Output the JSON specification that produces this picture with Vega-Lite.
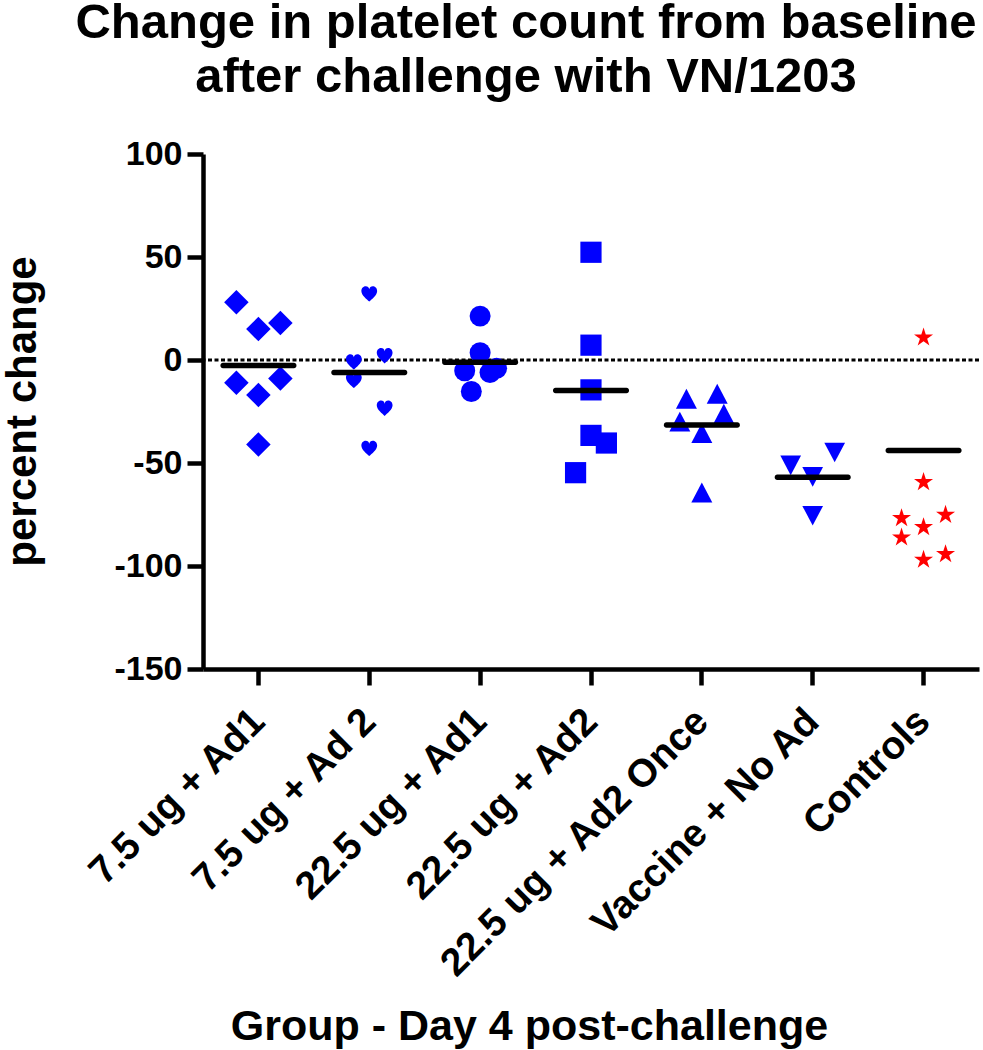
{
  "$schema": "https://vega.github.io/schema/vega-lite/v6.json",
  "autosize": {"type": "none"},
  "padding": {"left": 203, "top": 154, "right": 4, "bottom": 381},
  "width": 776,
  "height": 515,
  "background": "white",
  "config": {"view": {"stroke": null}, "font": "Liberation Sans"},
  "title": {
    "text": ["Change in platelet count from baseline", "after challenge with VN/1203"],
    "fontSize": 49, "fontWeight": "bold", "font": "Liberation Sans", "color": "black",
    "anchor": "middle", "frame": "group", "dx": -65, "offset": -14, "lineHeight": 54, "baseline": "bottom"
  },
  "datasets": {
    "points": [
      {"group": "7.5 ug + Ad1", "change": 28, "jitter": -1},
      {"group": "7.5 ug + Ad1", "change": 15, "jitter": 0},
      {"group": "7.5 ug + Ad1", "change": 18, "jitter": 1},
      {"group": "7.5 ug + Ad1", "change": -11, "jitter": -1},
      {"group": "7.5 ug + Ad1", "change": -17, "jitter": 0},
      {"group": "7.5 ug + Ad1", "change": -9, "jitter": 1},
      {"group": "7.5 ug + Ad1", "change": -41, "jitter": 0},
      {"group": "7.5 ug + Ad 2", "change": 32, "jitter": 0},
      {"group": "7.5 ug + Ad 2", "change": -1, "jitter": -0.7},
      {"group": "7.5 ug + Ad 2", "change": 2, "jitter": 0.7},
      {"group": "7.5 ug + Ad 2", "change": -10, "jitter": -0.7},
      {"group": "7.5 ug + Ad 2", "change": -23.5, "jitter": 0.7},
      {"group": "7.5 ug + Ad 2", "change": -43, "jitter": 0},
      {"group": "22.5 ug + Ad1", "change": 21.3, "jitter": 0},
      {"group": "22.5 ug + Ad1", "change": 3.5, "jitter": 0},
      {"group": "22.5 ug + Ad1", "change": -5.2, "jitter": -0.7},
      {"group": "22.5 ug + Ad1", "change": -6.1, "jitter": 0.45},
      {"group": "22.5 ug + Ad1", "change": -4.0, "jitter": 0.75},
      {"group": "22.5 ug + Ad1", "change": -15.3, "jitter": -0.4},
      {"group": "22.5 ug + Ad2", "change": 52.3, "jitter": 0},
      {"group": "22.5 ug + Ad2", "change": 7.2, "jitter": 0},
      {"group": "22.5 ug + Ad2", "change": -14.5, "jitter": 0},
      {"group": "22.5 ug + Ad2", "change": -36.6, "jitter": 0},
      {"group": "22.5 ug + Ad2", "change": -40.3, "jitter": 0.7},
      {"group": "22.5 ug + Ad2", "change": -54.7, "jitter": -0.7},
      {"group": "22.5 ug + Ad2 Once", "change": -18.8, "jitter": -0.7},
      {"group": "22.5 ug + Ad2 Once", "change": -16.4, "jitter": 0.7},
      {"group": "22.5 ug + Ad2 Once", "change": -26.1, "jitter": 1},
      {"group": "22.5 ug + Ad2 Once", "change": -29.9, "jitter": -1},
      {"group": "22.5 ug + Ad2 Once", "change": -35.4, "jitter": 0},
      {"group": "22.5 ug + Ad2 Once", "change": -64.3, "jitter": 0},
      {"group": "Vaccine + No Ad", "change": -51.2, "jitter": -1},
      {"group": "Vaccine + No Ad", "change": -44.9, "jitter": 1},
      {"group": "Vaccine + No Ad", "change": -56.7, "jitter": 0},
      {"group": "Vaccine + No Ad", "change": -75.6, "jitter": 0},
      {"group": "Controls", "change": 11.4, "jitter": 0},
      {"group": "Controls", "change": -58.8, "jitter": 0},
      {"group": "Controls", "change": -76.3, "jitter": -1},
      {"group": "Controls", "change": -74.7, "jitter": 1},
      {"group": "Controls", "change": -80.7, "jitter": 0},
      {"group": "Controls", "change": -85.7, "jitter": -1},
      {"group": "Controls", "change": -93.8, "jitter": 1},
      {"group": "Controls", "change": -96.5, "jitter": 0}
    ],
    "means": [
      {"group": "7.5 ug + Ad1", "mean": -2.7},
      {"group": "7.5 ug + Ad 2", "mean": -6.1},
      {"group": "22.5 ug + Ad1", "mean": -1.1},
      {"group": "22.5 ug + Ad2", "mean": -14.8},
      {"group": "22.5 ug + Ad2 Once", "mean": -31.5},
      {"group": "Vaccine + No Ad", "mean": -56.9},
      {"group": "Controls", "mean": -43.9}
    ]
  },
  "layer": [
    {
      "data": {"values": [{}]},
      "mark": {"type": "rule", "color": "black", "strokeWidth": 3, "strokeDash": [4, 2.5]},
      "encoding": {"y": {"datum": 0, "type": "quantitative"}}
    },
    {
      "data": {"name": "points"},
      "mark": {"type": "point", "filled": true, "opacity": 1, "strokeWidth": 0},
      "encoding": {
        "x": {
          "field": "group", "type": "nominal",
          "scale": {
            "type": "band", "paddingInner": 0, "paddingOuter": 0,
            "domain": ["7.5 ug + Ad1", "7.5 ug + Ad 2", "22.5 ug + Ad1", "22.5 ug + Ad2", "22.5 ug + Ad2 Once", "Vaccine + No Ad", "Controls"]
          },
          "axis": {
            "title": "Group - Day 4 post-challenge",
            "labelAngle": -45, "labelAlign": "right", "labelBaseline": "middle", "labelPadding": 30,
            "labelFontSize": 39, "labelFont": "Liberation Sans", "labelFontWeight": "bold", "labelColor": "black",
            "labelLimit": 0, "labelOverlap": false,
            "tickSize": 16, "tickWidth": 4.5, "tickColor": "black",
            "domainColor": "black", "domainWidth": 4.5, "grid": false,
            "titleFontSize": 43, "titleFont": "Liberation Sans", "titleFontWeight": "bold", "titleColor": "black",
            "titleX": 326, "titleY": 370, "titleAlign": "center", "titleBaseline": "alphabetic"
          }
        },
        "xOffset": {"field": "jitter", "type": "quantitative", "scale": {"domain": [-1, 1], "range": [33.4, 77.4]}},
        "y": {
          "field": "change", "type": "quantitative",
          "scale": {"domain": [-150, 100], "nice": false, "zero": false},
          "axis": {
            "title": "percent change", "values": [100, 50, 0, -50, -100, -150],
            "labelExpr": "'' + datum.value",
            "labelFontSize": 34, "labelFont": "Liberation Sans", "labelFontWeight": "bold", "labelColor": "black",
            "labelPadding": 5, "labelFlush": false,
            "tickSize": 16, "tickWidth": 4.5, "tickColor": "black",
            "domainColor": "black", "domainWidth": 4.5, "grid": false,
            "titleFontSize": 42, "titleFont": "Liberation Sans", "titleFontWeight": "bold", "titleColor": "black",
            "titleAngle": 270, "titleX": -168, "titleY": 257, "titleAlign": "center", "titleBaseline": "alphabetic"
          }
        },
        "shape": {
          "field": "group", "type": "nominal", "legend": null,
          "scale": {
            "domain": ["7.5 ug + Ad1", "7.5 ug + Ad 2", "22.5 ug + Ad1", "22.5 ug + Ad2", "22.5 ug + Ad2 Once", "Vaccine + No Ad", "Controls"],
            "range": [
              "diamond",
              "M0,0.95C-0.3,0.65,-1,0.15,-1,-0.4C-1,-0.8,-0.7,-1,-0.45,-1C-0.2,-1,-0.05,-0.85,0,-0.6C0.05,-0.85,0.2,-1,0.45,-1C0.7,-1,1,-0.8,1,-0.4C1,0.15,0.3,0.65,0,0.95Z",
              "circle",
              "square",
              "M0,-0.95L1,0.95L-1,0.95Z",
              "M0,0.95L1,-0.95L-1,-0.95Z",
              "M0,-0.9045L0.2234,-0.2119L0.9511,-0.2135L0.3614,0.2129L0.5878,0.9045L0,0.4755L-0.5878,0.9045L-0.3614,0.2129L-0.9511,-0.2135L-0.2234,-0.2119Z"
            ]
          }
        },
        "color": {
          "field": "group", "type": "nominal", "legend": null,
          "scale": {
            "domain": ["7.5 ug + Ad1", "7.5 ug + Ad 2", "22.5 ug + Ad1", "22.5 ug + Ad2", "22.5 ug + Ad2 Once", "Vaccine + No Ad", "Controls"],
            "range": ["#0000ff", "#0000ff", "#0000ff", "#0000ff", "#0000ff", "#0000ff", "#ff0000"]
          }
        },
        "size": {
          "field": "group", "type": "nominal", "legend": null,
          "scale": {
            "type": "ordinal",
            "domain": ["7.5 ug + Ad1", "7.5 ug + Ad 2", "22.5 ug + Ad1", "22.5 ug + Ad2", "22.5 ug + Ad2 Once", "Vaccine + No Ad", "Controls"],
            "range": [600, 250, 440, 450, 440, 430, 400]
          }
        }
      }
    },
    {
      "data": {"name": "means"},
      "mark": {"type": "tick", "color": "black", "thickness": 5.5, "size": 76, "orient": "horizontal", "opacity": 1, "cornerRadius": 2.5},
      "encoding": {
        "x": {"field": "group", "type": "nominal"},
        "y": {"field": "mean", "type": "quantitative"}
      }
    }
  ]
}
